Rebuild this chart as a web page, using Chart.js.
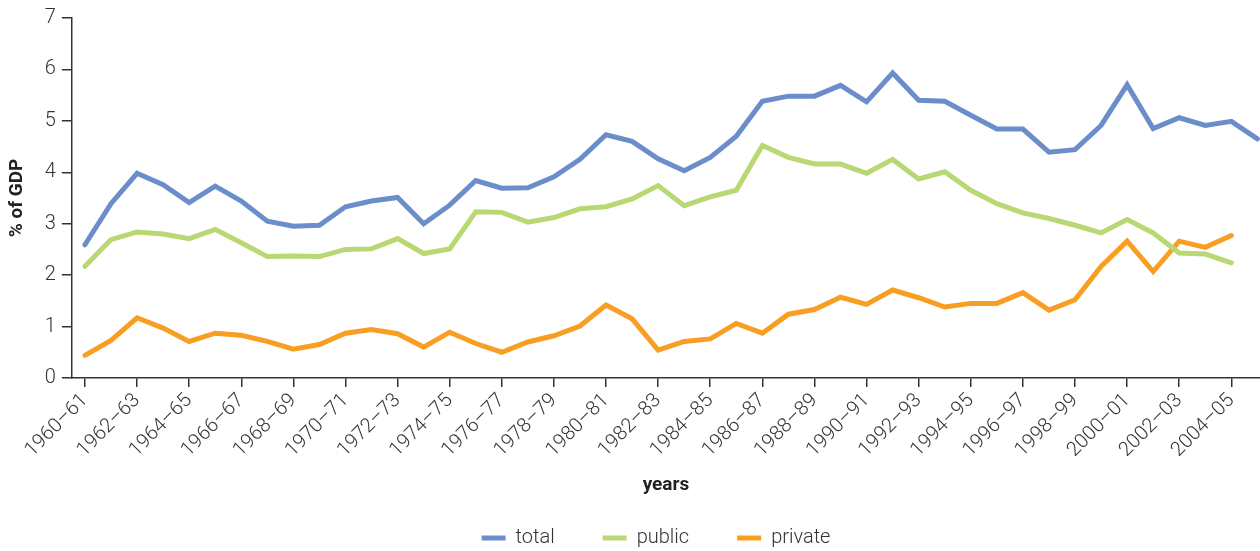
<!DOCTYPE html>
<html>
<head>
<meta charset="utf-8">
<script src="https://cdn.jsdelivr.net/npm/chart.js@4.4.1/dist/chart.umd.min.js"></script>
<style>
    html, body { margin: 0; padding: 0; background: #fff; }
    #wrap { width: 1260px; height: 551px; }
</style>
</head>
<body>
<div id="wrap"><canvas id="gdp_chart"></canvas></div>
<script>
// years 1960-61 .. 2005-06
var years = [];
for (var y = 1960; y <= 2005; y++) {
    years.push(y + '\u2013' + String((y + 1) % 100).padStart(2, '0'));
}

var total = [2.59, 3.39, 3.98, 3.76, 3.41, 3.73, 3.44, 3.05, 2.95, 2.97,
    3.33, 3.44, 3.51, 3.00, 3.36, 3.84, 3.69, 3.70, 3.91, 4.25,
    4.73, 4.60, 4.26, 4.03, 4.29, 4.70, 5.38, 5.48, 5.48, 5.69,
    5.37, 5.93, 5.40, 5.38, 5.11, 4.84, 4.84, 4.39, 4.44, 4.91,
    5.70, 4.85, 5.06, 4.91, 4.99, 4.65];

var publicSpend = [2.17, 2.69, 2.84, 2.80, 2.71, 2.89, 2.63, 2.36, 2.37, 2.36,
    2.50, 2.51, 2.71, 2.42, 2.51, 3.23, 3.22, 3.03, 3.12, 3.29,
    3.33, 3.48, 3.74, 3.35, 3.52, 3.65, 4.52, 4.29, 4.16, 4.16,
    3.98, 4.25, 3.87, 4.01, 3.65, 3.39, 3.21, 3.10, 2.97, 2.82,
    3.08, 2.82, 2.43, 2.41, 2.24, null];

var privateSpend = [0.44, 0.73, 1.17, 0.97, 0.71, 0.87, 0.83, 0.71, 0.56, 0.65,
    0.87, 0.94, 0.86, 0.60, 0.89, 0.67, 0.50, 0.70, 0.82, 1.01,
    1.42, 1.15, 0.54, 0.71, 0.76, 1.06, 0.87, 1.24, 1.33, 1.57,
    1.43, 1.71, 1.56, 1.38, 1.45, 1.45, 1.66, 1.32, 1.52, 2.17,
    2.66, 2.07, 2.66, 2.54, 2.77, null];

var yTicks = [0, 1, 2, 3, 4, 5, 6, 7];

var axisColor = '#333';
var textFont = {family: 'Roboto', size: 20, weight: 300};

function lineSet(label, data, color) {
    return {
        label: label,
        data: data.map(function (v, i) { return {x: i, y: v}; }),
        borderColor: color,
        backgroundColor: color,
        borderWidth: 5,
        borderCapStyle: 'round',
        pointRadius: 0,
        tension: 0,
        fill: false
    };
}

// legend keeps its wide gaps between items but takes less height
var legendTrim = {
    id: 'legendTrim',
    beforeInit: function (chart) {
        var fit = chart.legend.fit;
        chart.legend.fit = function () {
            fit.call(this);
            this.height -= 24;
        };
    },
    afterLayout: function (chart) {
        // only move the top, the legend clips to its own box
        chart.legend.top -= 17;
        chart.legend.left += 46;
    }
};

new Chart(document.getElementById('gdp_chart'), {
    type: 'line',
    data: {
        datasets: [
            lineSet('total', total, '#6b8ecb'),
            lineSet('public', publicSpend, '#b7d873'),
            lineSet('private', privateSpend, '#f89e22')
        ]
    },
    plugins: [legendTrim],
    options: {
        responsive: true,
        maintainAspectRatio: false,
        animation: false,
        layout: {padding: {left: 6, top: 12, right: 0, bottom: 0}},
        plugins: {
            tooltip: {enabled: false},
            legend: {
                position: 'bottom',
                labels: {
                    usePointStyle: true,
                    pointStyle: 'line',
                    pointStyleWidth: 24,
                    padding: 48,
                    color: axisColor,
                    font: {family: 'Roboto', size: 20, weight: 300}
                }
            }
        },
        scales: {
            x: {
                type: 'linear',
                min: -0.5,
                max: 45.1,
                afterBuildTicks: function (axis) {
                    var t = [];
                    for (var i = 0; i < years.length; i += 2) t.push({value: i});
                    axis.ticks = t;
                },
                grid: {display: true, drawOnChartArea: false, drawTicks: true, tickLength: 9, color: axisColor, lineWidth: 1.5},
                border: {display: true, color: axisColor, width: 1.5},
                ticks: {
                    autoSkip: false,
                    maxRotation: 45,
                    minRotation: 45,
                    color: axisColor,
                    font: textFont,
                    padding: 2,
                    callback: function (val) {
                        return years[val];
                    }
                },
                title: {
                    display: true,
                    text: 'years',
                    color: '#222',
                    font: {family: 'Roboto', size: 19, weight: 'bold'},
                    padding: {top: 10, bottom: 0}
                }
            },
            y: {
                min: 0,
                max: 7,
                afterBuildTicks: function (axis) {
                    axis.ticks = yTicks.map(function (v) { return {value: v}; });
                },
                grid: {display: true, drawOnChartArea: false, drawTicks: true, tickLength: 10, color: axisColor, lineWidth: 1.5},
                border: {display: true, color: axisColor, width: 1.5},
                ticks: {color: axisColor, font: textFont, padding: 6},
                title: {
                    display: true,
                    text: '% of GDP',
                    color: '#222',
                    font: {family: 'Roboto', size: 19, weight: 'bold'},
                    padding: {top: 0, bottom: 10}
                }
            }
        }
    }
});
</script>
</body>
</html>
